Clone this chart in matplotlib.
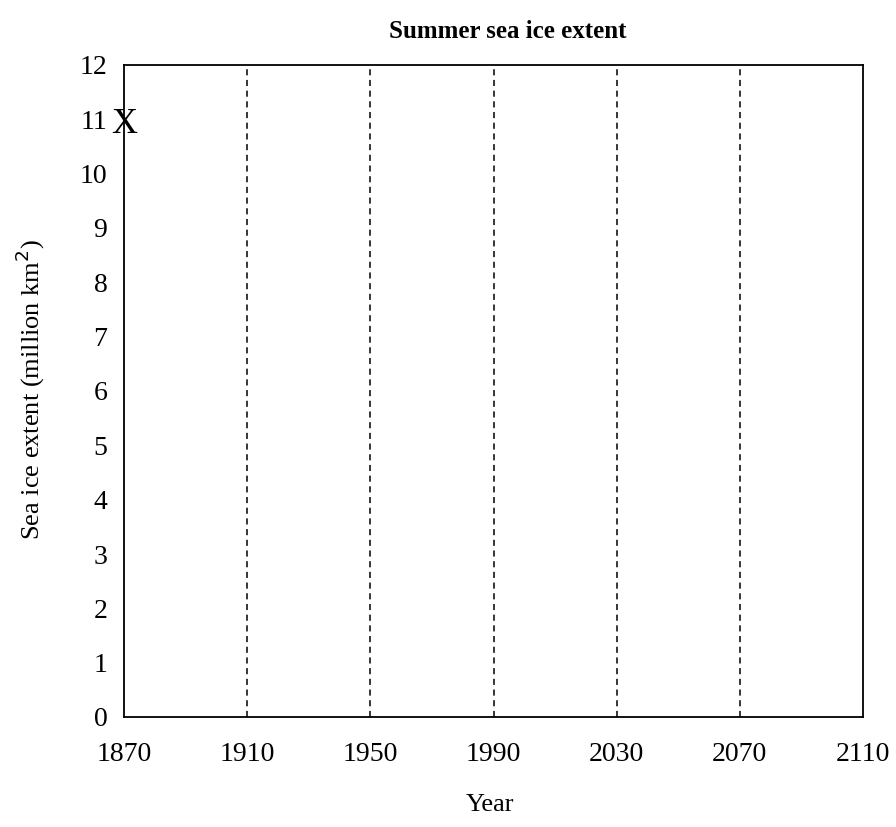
import numpy as np
import matplotlib
matplotlib.use("Agg")
import matplotlib.pyplot as plt

# data
years = [1870, 1910, 1950, 1990, 2030, 2070, 2110]
extent_ticks = list(range(0, 13))
grid_years = [1910, 1950, 1990, 2030, 2070]
marker_year = [1870]
marker_extent = [10.9]

plt.rcParams['font.family'] = ['Liberation Serif', 'DejaVu Serif']

fig = plt.figure(figsize=(8.96, 8.27), dpi=100)
ax = fig.add_axes([124 / 896, 1 - 717 / 827, (863 - 124) / 896, (717 - 65) / 827])

for yr in grid_years:
    ax.axvline(yr, color="black", linestyle=(0, (4, 3)), linewidth=1.1)

for xv, yv in zip(marker_year, marker_extent):
    ax.text(xv, yv, "X", fontsize=26, ha="center", va="center")

ax.set_xlim(years[0], years[-1])
ax.set_ylim(0, 12)
ax.set_xticks(years)
ax.set_yticks(extent_ticks)
ax.tick_params(length=0, labelsize=20)
ax.tick_params(axis="x", pad=18)
ax.tick_params(axis="y", pad=12)
for s in ax.spines.values():
    s.set_linewidth(1.3)

fig.text(508 / 896, 1 - 31 / 827, "Summer sea ice extent", fontsize=18,
         fontweight="bold", ha="center", va="center")
fig.text(490 / 896, 1 - 805 / 827, "Year", fontsize=19, ha="center", va="center")
fig.text(30 / 896, 1 - 390 / 827, "Sea ice extent (million km$^2$)", fontsize=19,
         rotation=90, ha="center", va="center")

fig.savefig("out.png", dpi=100)
